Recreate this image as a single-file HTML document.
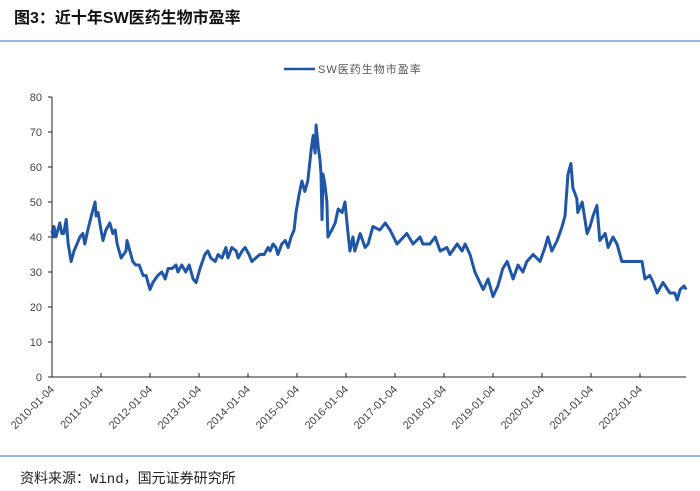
<!DOCTYPE html>
<html><head><meta charset="utf-8"><style>
body{margin:0;background:#fff;}
#wrap{position:relative;width:700px;height:491px;overflow:hidden;font-family:"Liberation Sans","Noto Sans CJK SC",sans-serif;}
</style></head><body>
<div id="wrap">
<svg id="svg" width="700" height="491" xmlns="http://www.w3.org/2000/svg">
<text x="14" y="23" font-size="16" font-weight="bold" fill="#111" font-family="Liberation Sans,Noto Sans CJK SC,sans-serif">图3：近十年SW医药生物市盈率</text>
<line x1="0" y1="41" x2="700" y2="41" stroke="#5b8bd0" stroke-width="1.2"/>
<g>
<line x1="284" y1="69" x2="315" y2="69" stroke="#1f56a8" stroke-width="2.5"/>
<text x="318" y="73" font-size="11" fill="#555" letter-spacing="1">SW医药生物市盈率</text>
</g>
<g id="axes"></g>
<line x1="0" y1="456" x2="700" y2="456" stroke="#5b8bd0" stroke-width="1.2"/>
<text x="20" y="483" font-size="14" fill="#222" font-family="Liberation Mono,Noto Sans CJK SC,monospace">资料来源：Wind，国元证券研究所</text>
</svg>
</div>
<script>
const yTicks=[0,10,20,30,40,50,60,70,80];
const xTickLabels=["2010-01-04","2011-01-04","2012-01-04","2013-01-04","2014-01-04","2015-01-04","2016-01-04","2017-01-04","2018-01-04","2019-01-04","2020-01-04","2021-01-04","2022-01-04"];
const tYears=[0,.02,.04,.08,.12,.16,.20,.24,.29,.33,.39,.45,.51,.57,.63,.67,.73,.82,.88,.90,.94,1.00,1.04,1.10,1.18,1.24,1.29,1.33,1.41,1.51,1.53,1.59,1.65,1.71,1.78,1.86,1.92,1.96,2.00,2.06,2.16,2.24,2.31,2.37,2.45,2.53,2.57,2.65,2.73,2.80,2.88,2.94,3.02,3.12,3.18,3.24,3.33,3.39,3.47,3.55,3.59,3.67,3.76,3.80,3.88,3.94,4.02,4.08,4.16,4.24,4.33,4.41,4.45,4.51,4.57,4.61,4.69,4.76,4.82,4.88,4.94,4.98,5.04,5.10,5.16,5.22,5.29,5.33,5.37,5.39,5.43,5.47,5.49,5.51,5.53,5.57,5.61,5.63,5.71,5.78,5.84,5.92,5.98,6.02,6.08,6.14,6.18,6.29,6.39,6.45,6.55,6.69,6.80,6.90,7.04,7.24,7.37,7.51,7.57,7.71,7.82,7.92,8.06,8.12,8.27,8.37,8.43,8.53,8.63,8.73,8.80,8.90,9.00,9.10,9.20,9.29,9.41,9.51,9.61,9.69,9.82,9.96,10.06,10.12,10.20,10.31,10.41,10.47,10.53,10.59,10.63,10.71,10.73,10.82,10.92,10.98,11.04,11.12,11.18,11.29,11.35,11.45,11.53,11.63,11.73,11.86,12.04,12.10,12.20,12.27,12.35,12.47,12.61,12.71,12.76,12.82,12.90,12.94];
const peValues=[42,40,43,40,42,44,41,41,45,38,33,36,38,40,41,38,42,47,50,46,47,42,39,42,44,41,42,38,34,36,39,36,33,32,32,29,29,27,25,27,29,30,28,31,31,32,30,32,30,32,28,27,31,35,36,34,33,35,34,37,34,37,36,34,36,37,35,33,34,35,35,37,36,38,37,35,38,39,37,40,42,47,52,56,53,56,65,69,64,72,66,62,58,45,58,55,50,40,42,44,48,47,50,44,36,40,36,41,37,38,43,42,44,42,38,41,38,40,38,38,40,36,37,35,38,36,38,35,30,27,25,28,23,26,31,33,28,32,30,33,35,33,37,40,36,39,43,46,58,61,54,51,47,50,41,43,46,49,39,41,37,40,38,33,33,33,33,28,29,27,24,27,24,24,22,25,26,25];
const NS="http://www.w3.org/2000/svg";
const x0=52,pxPerYear=49,y0=377,pxPerUnit=3.5,xEnd=686;
const xs=t=>x0+t*pxPerYear, ys=v=>y0-v*pxPerUnit;
const g=document.getElementById('axes');
function mk(tag,attrs){const e=document.createElementNS(NS,tag);for(const k in attrs)e.setAttribute(k,attrs[k]);g.appendChild(e);return e;}
yTicks.forEach(v=>{
 const t=mk('text',{x:x0-10,y:ys(v)+4,'font-size':11,fill:'#444','text-anchor':'end'});
 t.textContent=v;
 
 
 const l=mk('line',{x1:x0-4,x2:x0,y1:ys(v),y2:ys(v),stroke:'#222'});
 
 
});
xTickLabels.forEach((lab,i)=>{
 const x=xs(i);
 const l=mk('line',{x1:x,x2:x,y1:y0,y2:y0-4,stroke:'#222'});
 
 
 const t=mk('text',{x:x+3,y:y0+13,'font-size':11,fill:'#444','text-anchor':'end',transform:`rotate(-45 ${x+3} ${y0+13})`});
 t.textContent=lab;
 
 
});
const ya=mk('line',{x1:x0,x2:x0,y1:ys(80),y2:y0,stroke:'#222'});


const xa=mk('line',{x1:x0,x2:xEnd,y1:y0,y2:y0,stroke:'#222'});


const d=tYears.map((t,i)=>(i?'L':'M')+xs(t).toFixed(1)+','+ys(peValues[i]).toFixed(1)).join('');
const p=mk('path',{d:d,fill:'none',stroke:'#1f56a8','stroke-width':3,'stroke-linejoin':'round'});


</script>
</body></html>
